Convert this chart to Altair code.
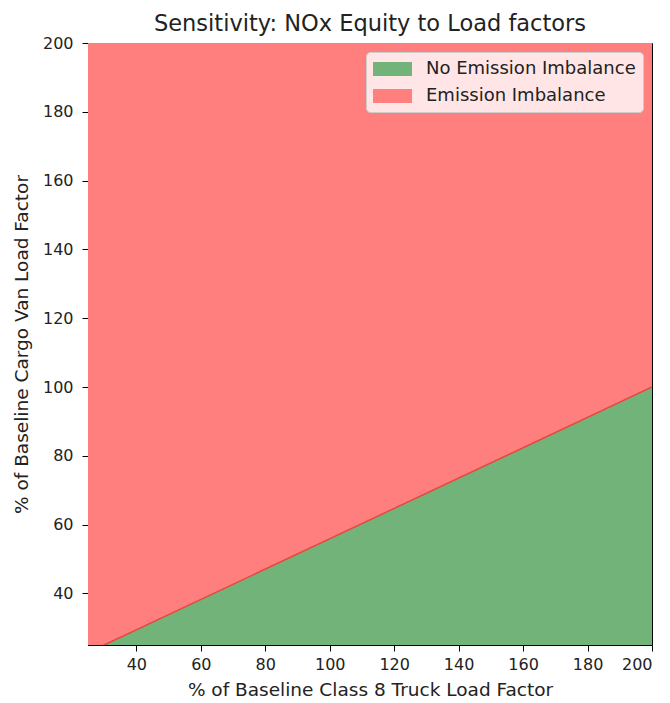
import altair as alt
import pandas as pd

# Boundary line between regions (x: truck load factor %, y: cargo van load factor %)
x_vals = [25, 30, 200]
boundary = [22.8, 25, 100]
y_min, y_max = 25, 200
regions = ["No Emission Imbalance", "Emission Imbalance"]
colors = ["#72b37a", "#ff7f7f"]
x_ticks = [40, 60, 80, 100, 120, 140, 160, 180, 200]
y_ticks = [40, 60, 80, 100, 120, 140, 160, 180, 200]

rows = []
for x, b in zip(x_vals, boundary):
    rows.append({"x": x, "lo": y_min, "hi": b, "region": regions[0]})
    rows.append({"x": x, "lo": b, "hi": y_max, "region": regions[1]})
df = pd.DataFrame(rows)
line_df = pd.DataFrame({"x": x_vals, "y": boundary})

FONT = "DejaVu Sans"

xscale = alt.Scale(domain=[25, 200], nice=False, zero=False)
yscale = alt.Scale(domain=[25, 200], nice=False, zero=False)

areas = alt.Chart(df).mark_area(clip=True, opacity=1).encode(
    x=alt.X("x:Q", scale=xscale,
            axis=alt.Axis(title="% of Baseline Class 8 Truck Load Factor", values=x_ticks,
                          grid=False, tickSize=6, tickColor="black", domainColor="black",
                          labelFontSize=16, titleFontSize=18.5, labelColor="#222",
                          titleColor="#222", titleFontWeight="normal", titlePadding=8,
                          labelPadding=5, labelFont=FONT, titleFont=FONT)),
    y=alt.Y("hi:Q", scale=yscale,
            axis=alt.Axis(title="% of Baseline Cargo Van Load Factor", values=y_ticks,
                          grid=False, tickSize=6, tickColor="black", domainColor="black",
                          labelFontSize=16, titleFontSize=18.5, labelColor="#222",
                          titleColor="#222", titleFontWeight="normal", titlePadding=11,
                          labelPadding=9, labelFont=FONT, titleFont=FONT)),
    y2="lo:Q",
    color=alt.Color("region:N", scale=alt.Scale(domain=regions, range=colors),
                    legend=alt.Legend(title=None, orient="top-right", offset=9,
                                      fillColor="rgba(255,255,255,0.8)", strokeColor="#cccccc",
                                      cornerRadius=4, padding=7, labelFontSize=18,
                                      labelFont=FONT, labelColor="#222", rowPadding=8,
                                      labelLimit=400,
                                      symbolType="M-1,-0.7H2.9V0.7H-1Z", symbolSize=400,
                                      symbolOpacity=1, symbolStrokeWidth=0, labelOffset=33)),
    detail="region:N",
)

line = alt.Chart(line_df).mark_line(color="#e8473d", strokeWidth=1.5, clip=True).encode(
    x=alt.X("x:Q", scale=xscale),
    y=alt.Y("y:Q", scale=yscale),
)

chart = alt.layer(areas, line).properties(
    width=564, height=602,
    title=alt.TitleParams("Sensitivity: NOx Equity to Load factors", fontSize=22.5,
                          font=FONT, fontWeight="normal", color="#222", offset=0),
    autosize=alt.AutoSizeParams(type="none"),
    padding={"left": 80, "top": 35, "right": 10, "bottom": 56},
).configure_view(stroke="black", strokeWidth=1)

chart.save("out.html", embed_options={"renderer": "svg", "actions": False})
